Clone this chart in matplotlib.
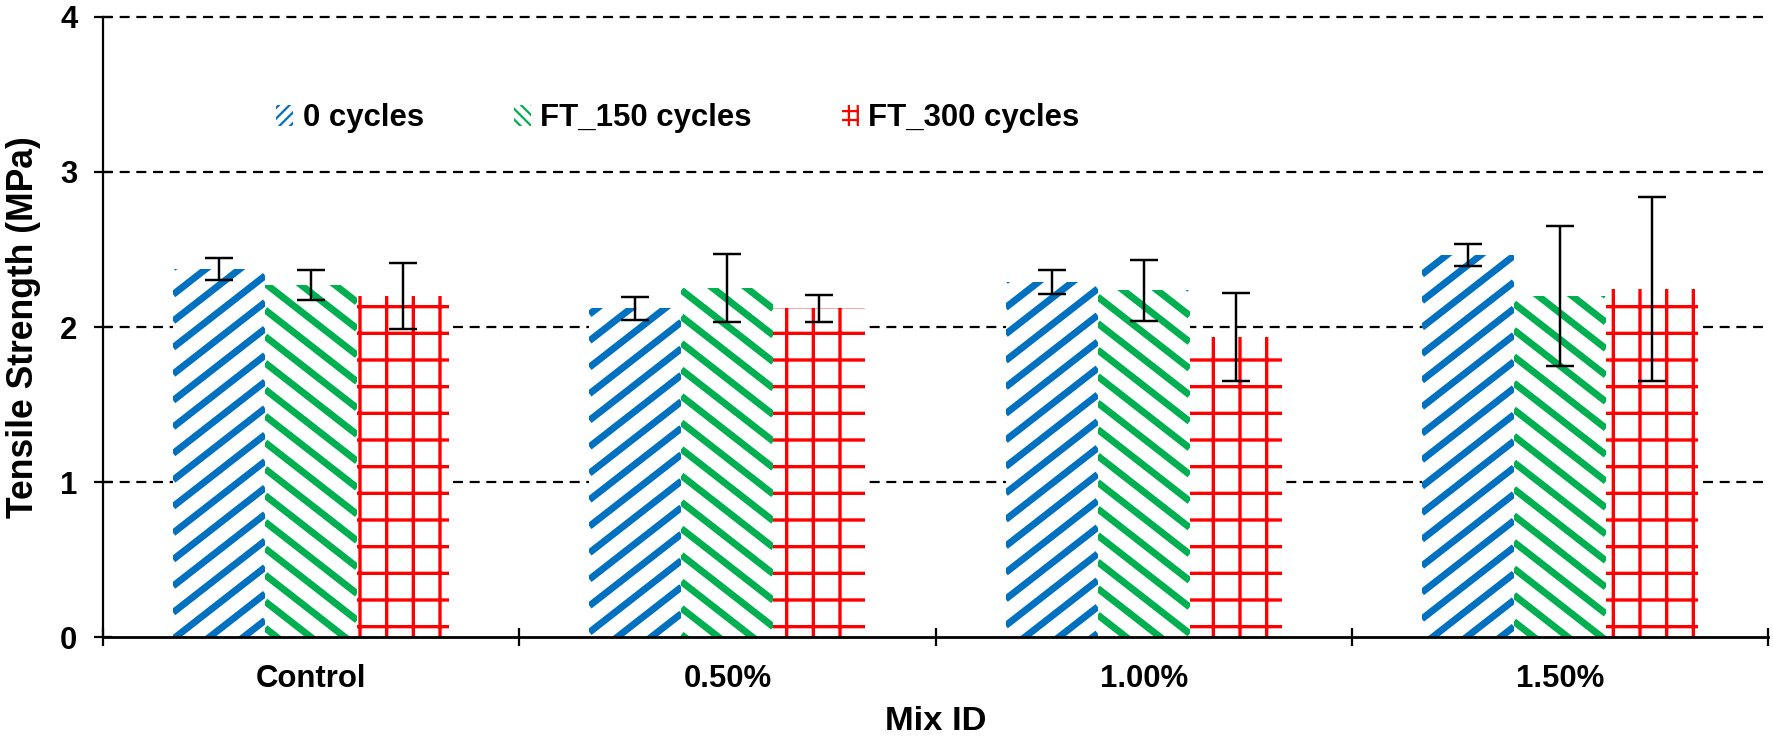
import numpy as np
import matplotlib
matplotlib.use('Agg')
import matplotlib.pyplot as plt
import matplotlib.patches as mpatches
from matplotlib.collections import LineCollection
from matplotlib.ticker import FixedLocator

# data
mixes = ['Control', '0.50%', '1.00%', '1.50%']
series = ['0 cycles', 'FT_150 cycles', 'FT_300 cycles']
strength_0 = [2.375, 2.12, 2.29, 2.466]
strength_150 = [2.27, 2.25, 2.236, 2.198]
strength_300 = [2.20, 2.12, 1.935, 2.246]
err_0 = [0.073, 0.072, 0.078, 0.072]
err_150 = [0.095, 0.22, 0.197, 0.452]
err_300 = [0.214, 0.086, 0.285, 0.592]
y_ticks = [0, 1, 2, 3, 4]

colors = ['#0070C0', '#00B050', '#FF0000']
# stripe direction for the two diagonal fills (+1 = upward, -1 = downward), None = grid hatch
stripe_dir = [1, -1, None]

plt.rcParams['font.family'] = ['Liberation Sans', 'DejaVu Sans']
plt.rcParams['font.weight'] = 'bold'

DPI = 160
fig = plt.figure(figsize=(1773 / DPI, 753 / DPI), dpi=DPI)
ax = fig.add_axes([0.0581, 0.1536, 0.9391, 0.8242])
ax.set_xlim(-0.5, 3.5)
ax.set_ylim(0, 4)

x = np.arange(len(mixes))
width = 0.221
values = [strength_0, strength_150, strength_300]
errors = [err_0, err_150, err_300]

# pixel size of one data unit, used to give the stripes a fixed look on screen
p0 = ax.transData.transform((0, 0))
p1 = ax.transData.transform((1, 1))
sx, sy = p1[0] - p0[0], p1[1] - p0[1]
stripe_slope_px = 0.78      # rise over run in pixels
stripe_period_px = 26.5     # vertical distance between stripes
stripe_lw = 3.1

######## dashed horizontal grid behind the bars ########
for yv in y_ticks[1:]:
    ax.axhline(yv, color='black', lw=1.0, ls=(0, (4.5, 3)), zorder=1, clip_on=False)


def add_stripes(bar, color, direction):
    x0 = bar.get_x()
    x1 = x0 + bar.get_width()
    h = bar.get_height()
    m = direction * stripe_slope_px * sx / sy
    per = stripe_period_px / sy
    lo = min(-m * x0, -m * x1) / per - 2
    hi = (h + max(-m * x0, -m * x1)) / per + 2
    segs = []
    for k in range(int(np.floor(lo)), int(np.ceil(hi)) + 1):
        c = k * per
        segs.append([(x0, c + m * x0), (x1, c + m * x1)])
    lc = LineCollection(segs, colors=color, linewidths=stripe_lw, capstyle='butt', zorder=2.5)
    ax.add_collection(lc)
    lc.set_clip_path(bar)


######## the three series ########
for i in range(3):
    if stripe_dir[i] is None:
        with plt.rc_context({'hatch.linewidth': 1.5}):
            bars = ax.bar(x + (i - 1) * width, values[i], width, color='white',
                          edgecolor=colors[i], linewidth=0, hatch='+', zorder=2)
            if hasattr(bars.patches[0], 'set_hatch_linewidth'):
                for b in bars.patches:
                    b.set_hatch_linewidth(1.5)
    else:
        bars = ax.bar(x + (i - 1) * width, values[i], width, color='white',
                      linewidth=0, zorder=2)
        for b in bars.patches:
            add_stripes(b, colors[i], stripe_dir[i])
    ax.errorbar(x + (i - 1) * width, values[i], yerr=errors[i], fmt='none',
                ecolor='black', elinewidth=1.1, capsize=6.3, capthick=1.1, zorder=3)

ax.set_xlim(-0.5, 3.5)
ax.set_ylim(0, 4)
ax.set_yticks(y_ticks)
ax.set_xticks(x)
ax.set_xticklabels(mixes)
ax.xaxis.set_minor_locator(FixedLocator(np.arange(-0.5, 4, 1.0)))

ax.tick_params(axis='x', which='major', length=0, pad=12, labelsize=14)
ax.tick_params(axis='x', which='minor', direction='inout', length=8.1, width=1.0)
ax.tick_params(axis='y', direction='inout', length=8.1, width=1.0, pad=7.5, labelsize=14)

for s in ['top', 'right']:
    ax.spines[s].set_visible(False)
ax.spines['left'].set_linewidth(1.0)
ax.spines['bottom'].set_linewidth(1.25)
ax.spines['bottom'].set_zorder(4)

ax.set_ylabel('Tensile Strength (MPa)', fontsize=16, fontweight='bold')
ax.yaxis.set_label_coords(-0.037, 0.5)
ax.set_xlabel('Mix ID', fontsize=15.5, fontweight='bold')
ax.xaxis.set_label_coords(0.5, -0.11)

######## legend with small, denser hatch swatches ########
leg_hatches = ['/////', '\\\\\\\\\\', '+++']
handles = []
for i in range(3):
    with plt.rc_context({'hatch.linewidth': 0.8}):
        h = mpatches.Patch(facecolor='white', edgecolor=colors[i], linewidth=0,
                           hatch=leg_hatches[i], label=series[i])
        if hasattr(h, 'set_hatch_linewidth'):
            h.set_hatch_linewidth(0.8)
    handles.append(h)
fig.legend(handles=handles, loc='center left', bbox_to_anchor=(0.1557, 0.843),
           ncol=3, frameon=False, fontsize=14, borderpad=0, borderaxespad=0,
           handlelength=0.55, handleheight=0.65, handletextpad=0.3, columnspacing=2.9)

fig.savefig('out.png', dpi=DPI)
